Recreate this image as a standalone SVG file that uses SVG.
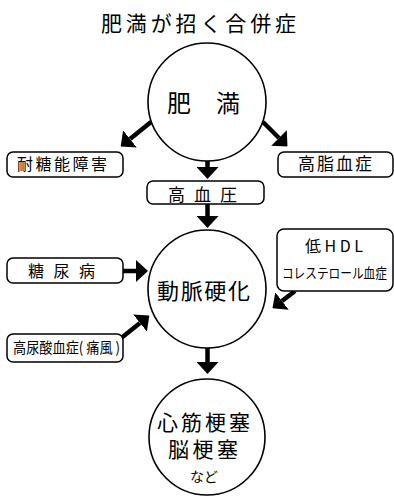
<svg xmlns="http://www.w3.org/2000/svg" width="394" height="496" viewBox="0 0 394 496">
<style>
text{font-family:"Noto Sans CJK JP","Noto Sans",sans-serif;fill:#000}
.box{fill:#fff;stroke:#000;stroke-width:1.5}
.circ{fill:#fff;stroke:#000;stroke-width:1.6}
.arr{stroke:#000;stroke-width:4.5;fill:none;marker-end:url(#ah)}
</style>
<defs>
<marker id="ah" viewBox="0 0 12 22" refX="0" refY="11" markerWidth="12" markerHeight="22" markerUnits="userSpaceOnUse" orient="auto">
<path d="M0,0 L12,11 L0,22 z" fill="#000"/>
</marker>
</defs>
<rect width="394" height="496" fill="#fff"/>
<text x="101" y="31" font-size="21" textLength="195">肥満が招く合併症</text>
<g id="connectors">
<line class="arr" x1="151" y1="122" x2="130" y2="139"/>
<line class="arr" x1="263" y1="122" x2="279" y2="138"/>
<line class="arr" x1="207.5" y1="160" x2="207.5" y2="167"/>
<line class="arr" x1="207.5" y1="204" x2="207.5" y2="216"/>
<line class="arr" x1="123" y1="271" x2="136" y2="271"/>
<line class="arr" x1="295" y1="291" x2="282" y2="301"/>
<line class="arr" x1="120" y1="339" x2="140" y2="323"/>
<line class="arr" x1="207.5" y1="347" x2="207.5" y2="362"/>
</g>
<g id="obesity">
<circle class="circ" cx="207" cy="102" r="59"/>
<text x="167" y="111.5" font-size="24" textLength="73">肥　満</text>
</g>
<g id="igt">
<rect class="box" x="7" y="152" width="116" height="25" rx="6"/>
<text x="17" y="170" font-size="16" textLength="90">耐糖能障害</text>
</g>
<g id="hyperlipidemia">
<rect class="box" x="278" y="152" width="115" height="25" rx="6"/>
<text x="298" y="170" font-size="17" textLength="74">高脂血症</text>
</g>
<g id="hypertension">
<rect class="box" x="147" y="181" width="117" height="23" rx="6"/>
<text x="168" y="200.5" font-size="17" textLength="69">高血圧</text>
</g>
<g id="diabetes">
<rect class="box" x="7" y="258" width="116" height="25" rx="6"/>
<text x="28" y="276.5" font-size="16" textLength="67">糖尿病</text>
</g>
<g id="lowhdl">
<rect class="box" x="277" y="229" width="116" height="62" rx="7"/>
<text x="305" y="252" font-size="16" textLength="58">低HDL</text>
<text transform="scale(0.833,1)" x="338.5" y="278" font-size="14">コレステロール血症</text>
</g>
<g id="hyperuricemia">
<rect class="box" x="7" y="334" width="116" height="28" rx="6"/>
<text x="13" y="353" font-size="15" textLength="107" lengthAdjust="spacingAndGlyphs">高尿酸血症( 痛風 )</text>
</g>
<g id="atherosclerosis">
<circle class="circ" cx="207" cy="289" r="59"/>
<text x="157" y="298.5" font-size="22" textLength="93">動脈硬化</text>
</g>
<g id="infarction">
<circle class="circ" cx="207" cy="437" r="58"/>
<text font-size="21"><tspan x="157" y="429.5" textLength="93">心筋梗塞</tspan><tspan x="168" y="456.5" textLength="70">脳梗塞</tspan></text>
<text x="190" y="482" font-size="14" textLength="28">など</text>
</g>
</svg>
